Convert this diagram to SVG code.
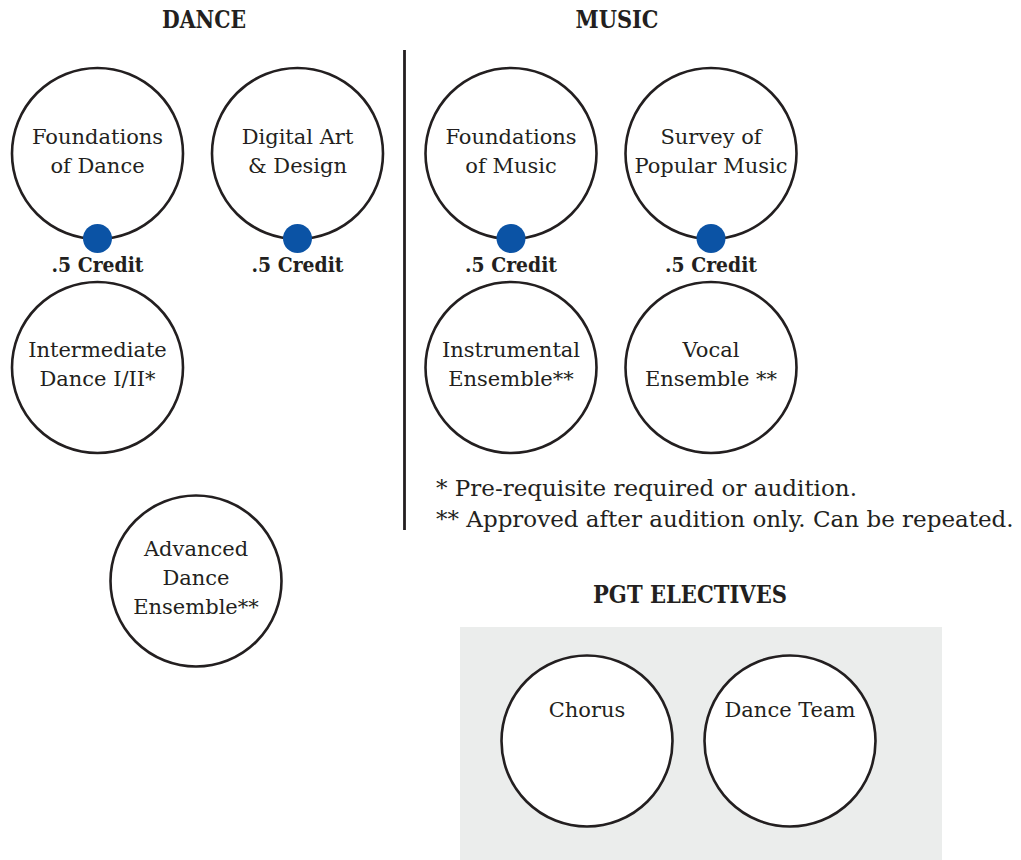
<svg xmlns="http://www.w3.org/2000/svg" width="1021" height="860" viewBox="0 0 1021 860">
<style>
.node{fill:#fff;stroke:#231f20;stroke-width:2.6}
.dot{fill:#0b53a5}
.lbl{font-family:"DejaVu Serif","Liberation Serif",serif;font-size:21px;fill:#231f20;text-anchor:middle}
.cr{font-family:"DejaVu Serif","Liberation Serif",serif;font-weight:bold;font-size:20.5px;fill:#231f20;text-anchor:middle}
.ttl{font-family:"DejaVu Serif","Liberation Serif",serif;font-weight:bold;font-size:23.5px;fill:#231f20;text-anchor:middle}
.note{font-family:"DejaVu Serif","Liberation Serif",serif;font-size:23px;fill:#231f20}
</style>
<rect width="1021" height="860" fill="#fff"/>
<g id="titles">
<text class="ttl" x="204" y="28" textLength="84" lengthAdjust="spacingAndGlyphs">DANCE</text>
<text class="ttl" x="617" y="28" textLength="83" lengthAdjust="spacingAndGlyphs">MUSIC</text>
<text class="ttl" x="690" y="603" textLength="194" lengthAdjust="spacingAndGlyphs">PGT ELECTIVES</text>
</g>
<g id="divider"><line x1="404.5" y1="50" x2="404.5" y2="530" stroke="#231f20" stroke-width="2.8"/></g>
<g id="pgt-box"><rect x="460" y="627" width="482" height="233" fill="#ebedec"/></g>
<g id="connectors"></g>
<g id="foundations-dance">
<circle class="node" cx="97.5" cy="153.5" r="85.5"/>
<text class="lbl" x="97.5" y="144">Foundations</text>
<text class="lbl" x="97.5" y="173">of Dance</text>
<circle class="dot" cx="97.5" cy="238.5" r="14.5"/>
<text class="cr" x="97.5" y="272" textLength="92" lengthAdjust="spacingAndGlyphs">.5 Credit</text>
</g>
<g id="digital-art">
<circle class="node" cx="297.5" cy="153.5" r="85.5"/>
<text class="lbl" x="297.5" y="144">Digital Art</text>
<text class="lbl" x="297.5" y="173">&amp; Design</text>
<circle class="dot" cx="297.5" cy="238.5" r="14.5"/>
<text class="cr" x="297.5" y="272" textLength="92" lengthAdjust="spacingAndGlyphs">.5 Credit</text>
</g>
<g id="foundations-music">
<circle class="node" cx="511" cy="153.5" r="85.5"/>
<text class="lbl" x="511" y="144">Foundations</text>
<text class="lbl" x="511" y="173">of Music</text>
<circle class="dot" cx="511" cy="238.5" r="14.5"/>
<text class="cr" x="511" y="272" textLength="92" lengthAdjust="spacingAndGlyphs">.5 Credit</text>
</g>
<g id="survey-popular">
<circle class="node" cx="711" cy="153.5" r="85.5"/>
<text class="lbl" x="711" y="144">Survey of</text>
<text class="lbl" x="711" y="173">Popular Music</text>
<circle class="dot" cx="711" cy="238.5" r="14.5"/>
<text class="cr" x="711" y="272" textLength="92" lengthAdjust="spacingAndGlyphs">.5 Credit</text>
</g>
<g id="intermediate-dance">
<circle class="node" cx="97.5" cy="367.5" r="85.5"/>
<text class="lbl" x="97.5" y="357">Intermediate</text>
<text class="lbl" x="97.5" y="386">Dance I/II*</text>
</g>
<g id="instrumental-ensemble">
<circle class="node" cx="511" cy="367.5" r="85.5"/>
<text class="lbl" x="511" y="357">Instrumental</text>
<text class="lbl" x="511" y="386">Ensemble**</text>
</g>
<g id="vocal-ensemble">
<circle class="node" cx="711" cy="367.5" r="85.5"/>
<text class="lbl" x="711" y="357">Vocal</text>
<text class="lbl" x="711" y="386">Ensemble **</text>
</g>
<g id="advanced-dance">
<circle class="node" cx="196" cy="581" r="85.5"/>
<text class="lbl" x="196" y="556">Advanced</text>
<text class="lbl" x="196" y="585">Dance</text>
<text class="lbl" x="196" y="614">Ensemble**</text>
</g>
<g id="footnotes">
<text class="note" x="436" y="496">* Pre-requisite required or audition.</text>
<text class="note" x="436" y="527">** Approved after audition only. Can be repeated.</text>
</g>
<g id="chorus">
<circle class="node" cx="587" cy="741" r="85.5"/>
<text class="lbl" x="587" y="717">Chorus</text>
</g>
<g id="dance-team">
<circle class="node" cx="790" cy="741" r="85.5"/>
<text class="lbl" x="790" y="717">Dance Team</text>
</g>
</svg>
